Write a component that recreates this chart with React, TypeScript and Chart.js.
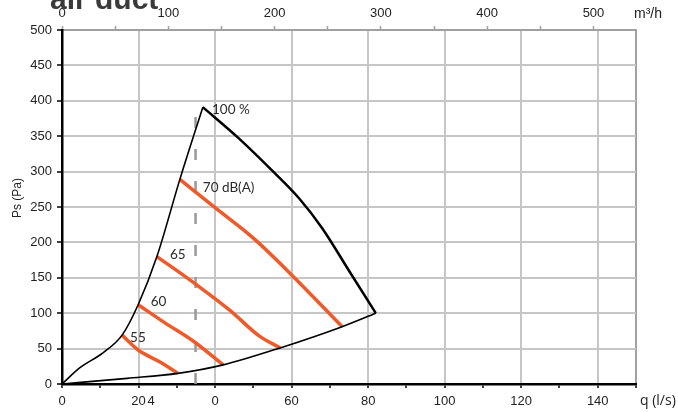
import React, { useEffect, useRef } from 'react';
import { Chart, registerables } from 'chart.js';

Chart.register(...registerables);

// ---- data ----
const flowTickValues = [0, 20, 40, 60, 80, 100, 120, 140];
const flowTickLabels = ['0', '20', '0', '60', '80', '100', '120', '140'];
const strayFlowLabels = [{ text: '4', x: 23.3 }];
const airflowTickValues = [0, 100, 200, 300, 400, 500];
const airflowTickLabels = ['0', '100', '200', '300', '400', '500'];
const pressureTickLabels = ['0', '50', '100', '150', '200', '250', '300', '350', '400', '450', '500'];

const fanCurveRising = [
  { x: 0, y: 0 }, { x: 4.7, y: 23 }, { x: 10.7, y: 44 }, { x: 15.7, y: 69 },
  { x: 19.9, y: 112 }, { x: 24.8, y: 180 }, { x: 30.8, y: 289 }, { x: 36.8, y: 391 },
];
const fanCurveFalling = [
  { x: 36.8, y: 391 }, { x: 46, y: 348 }, { x: 55, y: 301 }, { x: 62, y: 262 },
  { x: 68, y: 220 }, { x: 75, y: 160 }, { x: 82, y: 100 },
];
const systemCurve = [
  { x: 0, y: 0 }, { x: 17, y: 8 }, { x: 30.3, y: 15 }, { x: 42.1, y: 27 },
  { x: 57, y: 51 }, { x: 73.2, y: 81 }, { x: 82, y: 100 },
];
const sound70 = [{ x: 30.8, y: 289 }, { x: 40, y: 249 }, { x: 50, y: 206 }, { x: 60.4, y: 152 }, { x: 73.2, y: 81 }];
const sound65 = [{ x: 24.8, y: 180 }, { x: 35.2, y: 140 }, { x: 43.9, y: 104 }, { x: 51.5, y: 68 }, { x: 57, y: 51 }];
const sound60 = [{ x: 19.9, y: 112 }, { x: 27, y: 86 }, { x: 34.7, y: 59 }, { x: 42.1, y: 27 }];
const sound55 = [{ x: 15.7, y: 69 }, { x: 19.9, y: 48 }, { x: 25.6, y: 31 }, { x: 30.3, y: 15 }];
const dashedLine = [{ x: 34.9, y: 0 }, { x: 34.9, y: 400 }];

const curveLabels = [
  { text: '100 %', x: 39.2, y: 388 },
  { text: '70 dB(A)', x: 36.8, y: 278 },
  { text: '65', x: 28.2, y: 183 },
  { text: '60', x: 23.2, y: 117 },
  { text: '55', x: 17.8, y: 66 },
];
const titleText = 'air duct';
const yTitle = 'Ps (Pa)';
const xTitle = 'q (l/s)';
const x2Title = 'm³/h';

const TICK_FONT = "'Liberation Sans Narrow', 'Arial Narrow', 'Liberation Sans', Arial, sans-serif";
const SANS = "'Liberation Sans', Arial, sans-serif";
const LABEL_FONT = "Lato, 'Noto Sans', sans-serif";
const ORANGE = '#ef5a28';

const textPlugin = {
  id: 'textPlugin',
  afterDraw(chart: any) {
    const { ctx, scales } = chart;
    const x = scales.x;
    const y = scales.y;
    ctx.save();
    // curve labels
    ctx.fillStyle = '#2b2b2b';
    ctx.font = `13.5px ${LABEL_FONT}`;
    ctx.textAlign = 'left';
    ctx.textBaseline = 'middle';
    for (const l of curveLabels) {
      ctx.fillText(l.text, x.getPixelForValue(l.x), y.getPixelForValue(l.y));
    }
    // stray tick label
    ctx.fillStyle = '#222';
    ctx.font = `13px ${TICK_FONT}`;
    ctx.textAlign = 'center';
    for (const s of strayFlowLabels) {
      ctx.fillText(s.text, x.getPixelForValue(s.x), 401);
    }
    // axis titles
    ctx.textAlign = 'left';
    ctx.font = `14px 'Open Sans', ${SANS}`;
    ctx.fillText(xTitle, 640, 401);
    ctx.font = `14px ${TICK_FONT}`;
    ctx.fillText(x2Title, 634, 14);
    ctx.save();
    ctx.translate(18, 198);
    ctx.rotate(-Math.PI / 2);
    ctx.textAlign = 'center';
    ctx.font = `12px ${SANS}`;
    ctx.fillText(yTitle, 0, 0);
    ctx.restore();
    // cut-off title
    ctx.fillStyle = '#3a3a3a';
    ctx.font = `bold 30px ${SANS}`;
    ctx.textBaseline = 'alphabetic';
    ctx.fillText(titleText, 50, 9);
    ctx.restore();
  },
};

export default function App() {
  const ref = useRef<HTMLCanvasElement | null>(null);
  useEffect(() => {
    if (!ref.current) return;
    const line = (data: any[], color: string, width: number, order: number, extra: any = {}) => ({
      data,
      borderColor: color,
      backgroundColor: color,
      borderWidth: width,
      showLine: true,
      pointRadius: 0,
      pointHoverRadius: 0,
      cubicInterpolationMode: 'monotone',
      fill: false,
      order,
      ...extra,
    });
    const chart = new Chart(ref.current, {
      type: 'scatter',
      data: {
        datasets: [
          line(fanCurveRising, '#000', 1.6, 1),
          line(fanCurveFalling, '#000', 2.5, 1),
          line(systemCurve, '#000', 1.6, 1),
          line(sound70, ORANGE, 3.5, 2),
          line(sound65, ORANGE, 3.5, 2),
          line(sound60, ORANGE, 3.5, 2),
          line(sound55, ORANGE, 3.5, 2),
          line(dashedLine, '#999', 2.5, 3, { borderDash: [11, 21], cubicInterpolationMode: 'default', tension: 0 }),
        ] as any,
      },
      options: {
        animation: false,
        responsive: false,
        devicePixelRatio: 1,
        layout: { padding: { left: 0, right: 42, top: 0, bottom: 0 } },
        plugins: { legend: { display: false }, tooltip: { enabled: false } },
        scales: {
          x: {
            type: 'linear',
            position: 'bottom',
            min: 0,
            max: 150,
            afterFit: (s: any) => { s.height = 28; },
            afterBuildTicks: (s: any) => { s.ticks = s.ticks.filter((t: any) => t.value % 10 === 0); },
            ticks: {
              stepSize: 10,
              autoSkip: false,
              maxRotation: 0,
              padding: 6,
              color: '#222',
              font: { family: TICK_FONT, size: 13 },
              callback: (v: any) => {
                const i = flowTickValues.indexOf(Number(v));
                return i >= 0 ? flowTickLabels[i] : '';
              },
            },
            grid: {
              color: (c: any) => {
                const v = c.tick?.value;
                if (v === 150) return '#a0a0a0';
                return v % 20 === 0 ? '#c6c6c6' : 'rgba(0,0,0,0)';
              },
              lineWidth: 2,
              tickColor: '#000',
              tickLength: 4,
              tickWidth: 1.5,
            },
            border: { color: '#000', width: 2.5 },
          },
          x2: {
            type: 'linear',
            position: 'top',
            min: 0,
            max: 540,
            afterFit: (s: any) => { s.height = 30; },
            afterBuildTicks: (s: any) => { s.ticks = s.ticks.filter((t: any) => t.value % 50 === 0 && t.value <= 500); },
            ticks: {
              stepSize: 50,
              autoSkip: false,
              maxRotation: 0,
              padding: 5,
              color: '#222',
              font: { family: TICK_FONT, size: 13 },
              callback: (v: any) => {
                const i = airflowTickValues.indexOf(Number(v));
                return i >= 0 ? airflowTickLabels[i] : '';
              },
            },
            grid: { drawOnChartArea: false, tickColor: '#a0a0a0', tickLength: 4, tickWidth: 1.5 },
            border: { color: '#a0a0a0', width: 2 },
          },
          y: {
            type: 'linear',
            position: 'left',
            min: 0,
            max: 500,
            afterFit: (s: any) => { s.width = 62; },
            ticks: {
              stepSize: 50,
              padding: 5,
              color: '#222',
              font: { family: TICK_FONT, size: 13 },
              callback: (v: any) => pressureTickLabels[Math.round(Number(v) / 50)] ?? '',
            },
            grid: {
              color: (c: any) => (c.tick?.value === 500 ? '#a0a0a0' : '#c6c6c6'),
              lineWidth: 2,
              tickColor: '#000',
              tickLength: 5,
              tickWidth: 1.5,
            },
            border: { color: '#000', width: 2.5 },
          },
        },
      } as any,
      plugins: [textPlugin],
    });
    return () => chart.destroy();
  }, []);
  return (
    <div style={{ position: 'absolute', left: 0, top: 0, width: 678, height: 412, background: '#fff' }}>
      <canvas ref={ref} width={678} height={412} style={{ display: 'block' }} />
    </div>
  );
}
